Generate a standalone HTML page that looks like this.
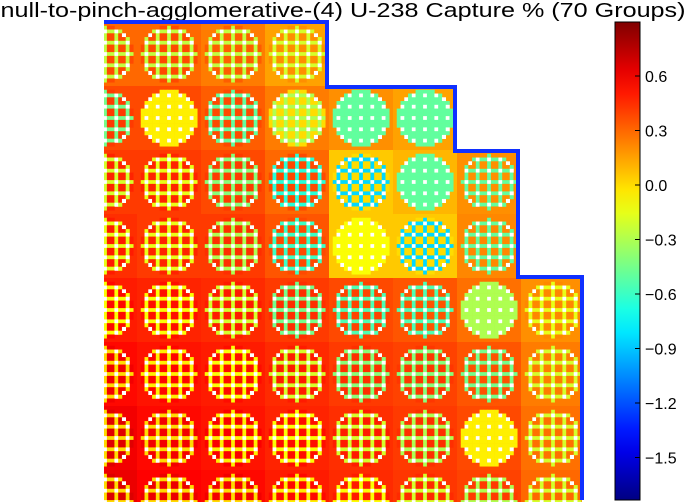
<!DOCTYPE html>
<html><head><meta charset="utf-8"><style>
body{margin:0;background:#fff;overflow:hidden;}
svg{display:block;font-family:"Liberation Sans","DejaVu Sans",sans-serif;}
</style></head><body>
<svg id="chart" width="687" height="502" viewBox="0 0 687 502">
<text x="343" y="17" font-size="20.5" text-anchor="middle" textLength="685" lengthAdjust="spacingAndGlyphs">null-to-pinch-agglomerative-(4) U-238 Capture % (70 Groups)</text>
<defs>
<clipPath id="core"><polygon points="104,22 327,22 327,87 455,87 455,151 518,151 518,277 582,277 582,502 104,502"/></clipPath>
<linearGradient id="jetgrad" x1="0" y1="1" x2="0" y2="0"></linearGradient>
</defs>
<g id="cells" clip-path="url(#core)"></g>
<polyline points="104,22 327,22 327,87 455,87 455,151 518,151 518,277 582,277 582,500" fill="none" stroke="#1030ff" stroke-width="4"/>
<rect x="615" y="22" width="25" height="478" fill="url(#jetgrad)" stroke="#000" stroke-width="1"/>
<g id="cbticks"></g>
</svg>
<script>
const bgVals=[[.3,.3,.25,.15],[.38,.38,.33,.25,.2,.15],[.42,.42,.38,.3,.05,.1,.2],[.45,.42,.42,.35,.05,.05,.22],[.5,.48,.46,.42,.38,.35,.28,.2],[.55,.52,.5,.46,.42,.4,.35,.25],[.6,.55,.52,.48,.45,.42,.38,.28],[.62,.57,.55,.5,.46,.43,.4,.3]];
const lineVals=[[-.25,-.25,-.25,-.2],[-.45,-.05,-.5,-.3,-.5,-.5],[-.2,-.15,-.4,-.65,-.85,-.5,-.5],[-.15,-.15,-.3,-.6,-.1,-.85,-.5],[-.1,-.1,-.2,-.45,-.55,-.55,-.3,-.15],[0,-.05,-.1,-.2,-.4,-.4,-.45,-.2],[0,0,-.05,-.1,-.2,-.3,-.05,-.2],[0,0,0,-.05,-.1,-.2,-.3,-.2]];
const cellVals=[[.38,.38,.33,.2],[.42,-.05,.38,0,-.5,-.5],[.48,.48,.42,.38,0,-.5,.2],[.5,.48,.45,.38,-.1,0,.22],[.55,.53,.5,.45,.4,.35,-.3,.22],[.6,.56,.54,.5,.45,.43,.36,.25],[.65,.6,.58,.54,.5,.45,-.05,.28],[.66,.62,.6,.55,.5,.46,.42,.3]];
const tickVals=[0.6,0.3,0.0,-0.3,-0.6,-0.9,-1.2,-1.5];
const tickLabels=["0.6","0.3","0.0","\u22120.3","\u22120.6","\u22120.9","\u22121.2","\u22121.5"];
const vmin=-1.74,vmax=0.9;
function jet(v){let t=(v-vmin)/(vmax-vmin);t=Math.max(0,Math.min(1,t));
 const f=x=>Math.max(0,Math.min(1,x));
 const r=f(Math.min(4*t-1.5,-4*t+4.5)),g=f(Math.min(4*t-0.5,-4*t+3.5)),b=f(Math.min(4*t+0.5,-4*t+2.5));
 return `rgb(${Math.round(r*255)},${Math.round(g*255)},${Math.round(b*255)})`;}
const NS="http://www.w3.org/2000/svg";
const cx0=105,cy0=54,asz=64,np=17,ps=asz/np,H=502;
const xA=j=>cx0+asz*j, yA=i=>cy0+asz*i;
const cyToY=v=>185-(v/0.3)*54.5;
const g=document.getElementById('cells');
const gt=[[2,5],[2,8],[2,11],[3,3],[3,13],[5,2],[5,5],[5,8],[5,11],[5,14],[8,2],[8,5],[8,8],[8,11],[8,14],[11,2],[11,5],[11,8],[11,11],[11,14],[13,3],[13,13],[14,5],[14,8],[14,11]];
const gtSet=new Set(gt.map(p=>p[0]*17+p[1]));
for(let i=0;i<bgVals.length;i++)for(let j=0;j<bgVals[i].length;j++){
 const x0=xA(j)-asz/2,y0=yA(i)-asz/2;
 const bg=document.createElementNS(NS,'rect');
 
 
 bg.setAttribute('x',x0);bg.setAttribute('y',y0);bg.setAttribute('width',asz+0.5);bg.setAttribute('height',Math.min(asz+0.5,H-y0));bg.setAttribute('fill',jet(bgVals[i][j]));g.appendChild(bg);
 for(let r=0;r<np;r++)for(let c=0;c<np;c++){
  const dr=r-8,dc=c-8; if(dr*dr+dc*dc>7.6*7.6)continue;
  const py=y0+r*ps; if(py>=H)continue;
  let col;
  if(gtSet.has(r*17+c)) col='#fff';
  else if(r%3==2||c%3==2) col=jet(lineVals[i][j]);
  else col=jet(cellVals[i][j]);
  const p=document.createElementNS(NS,'rect');
  
  
  p.setAttribute('x',(x0+c*ps).toFixed(2));p.setAttribute('y',py.toFixed(2));
  p.setAttribute('width',(ps+0.3).toFixed(2));p.setAttribute('height',Math.min(ps+0.3,H-py).toFixed(2));p.setAttribute('fill',col);g.appendChild(p);
 }
}
const grad=document.getElementById('jetgrad');
const botY=500, vBot=(185-botY)/54.5*0.3;
for(let k=0;k<=20;k++){const s=document.createElementNS(NS,'stop');s.setAttribute('offset',k/20);
 const v=vBot+(vmax-vBot)*k/20;s.setAttribute('stop-color',jet(v));grad.appendChild(s);}
const gtk=document.getElementById('cbticks');
tickVals.forEach((v,k)=>{const y=cyToY(v);
 const l=document.createElementNS(NS,'line');
 
 
 l.setAttribute('x1',635);l.setAttribute('x2',640);l.setAttribute('y1',y);l.setAttribute('y2',y);l.setAttribute('stroke','#000');gtk.appendChild(l);
 const t=document.createElementNS(NS,'text');
 
 
 t.setAttribute('x',645);t.setAttribute('y',y+6);t.setAttribute('font-size','16');t.textContent=tickLabels[k];gtk.appendChild(t);});
</script>
</body></html>
